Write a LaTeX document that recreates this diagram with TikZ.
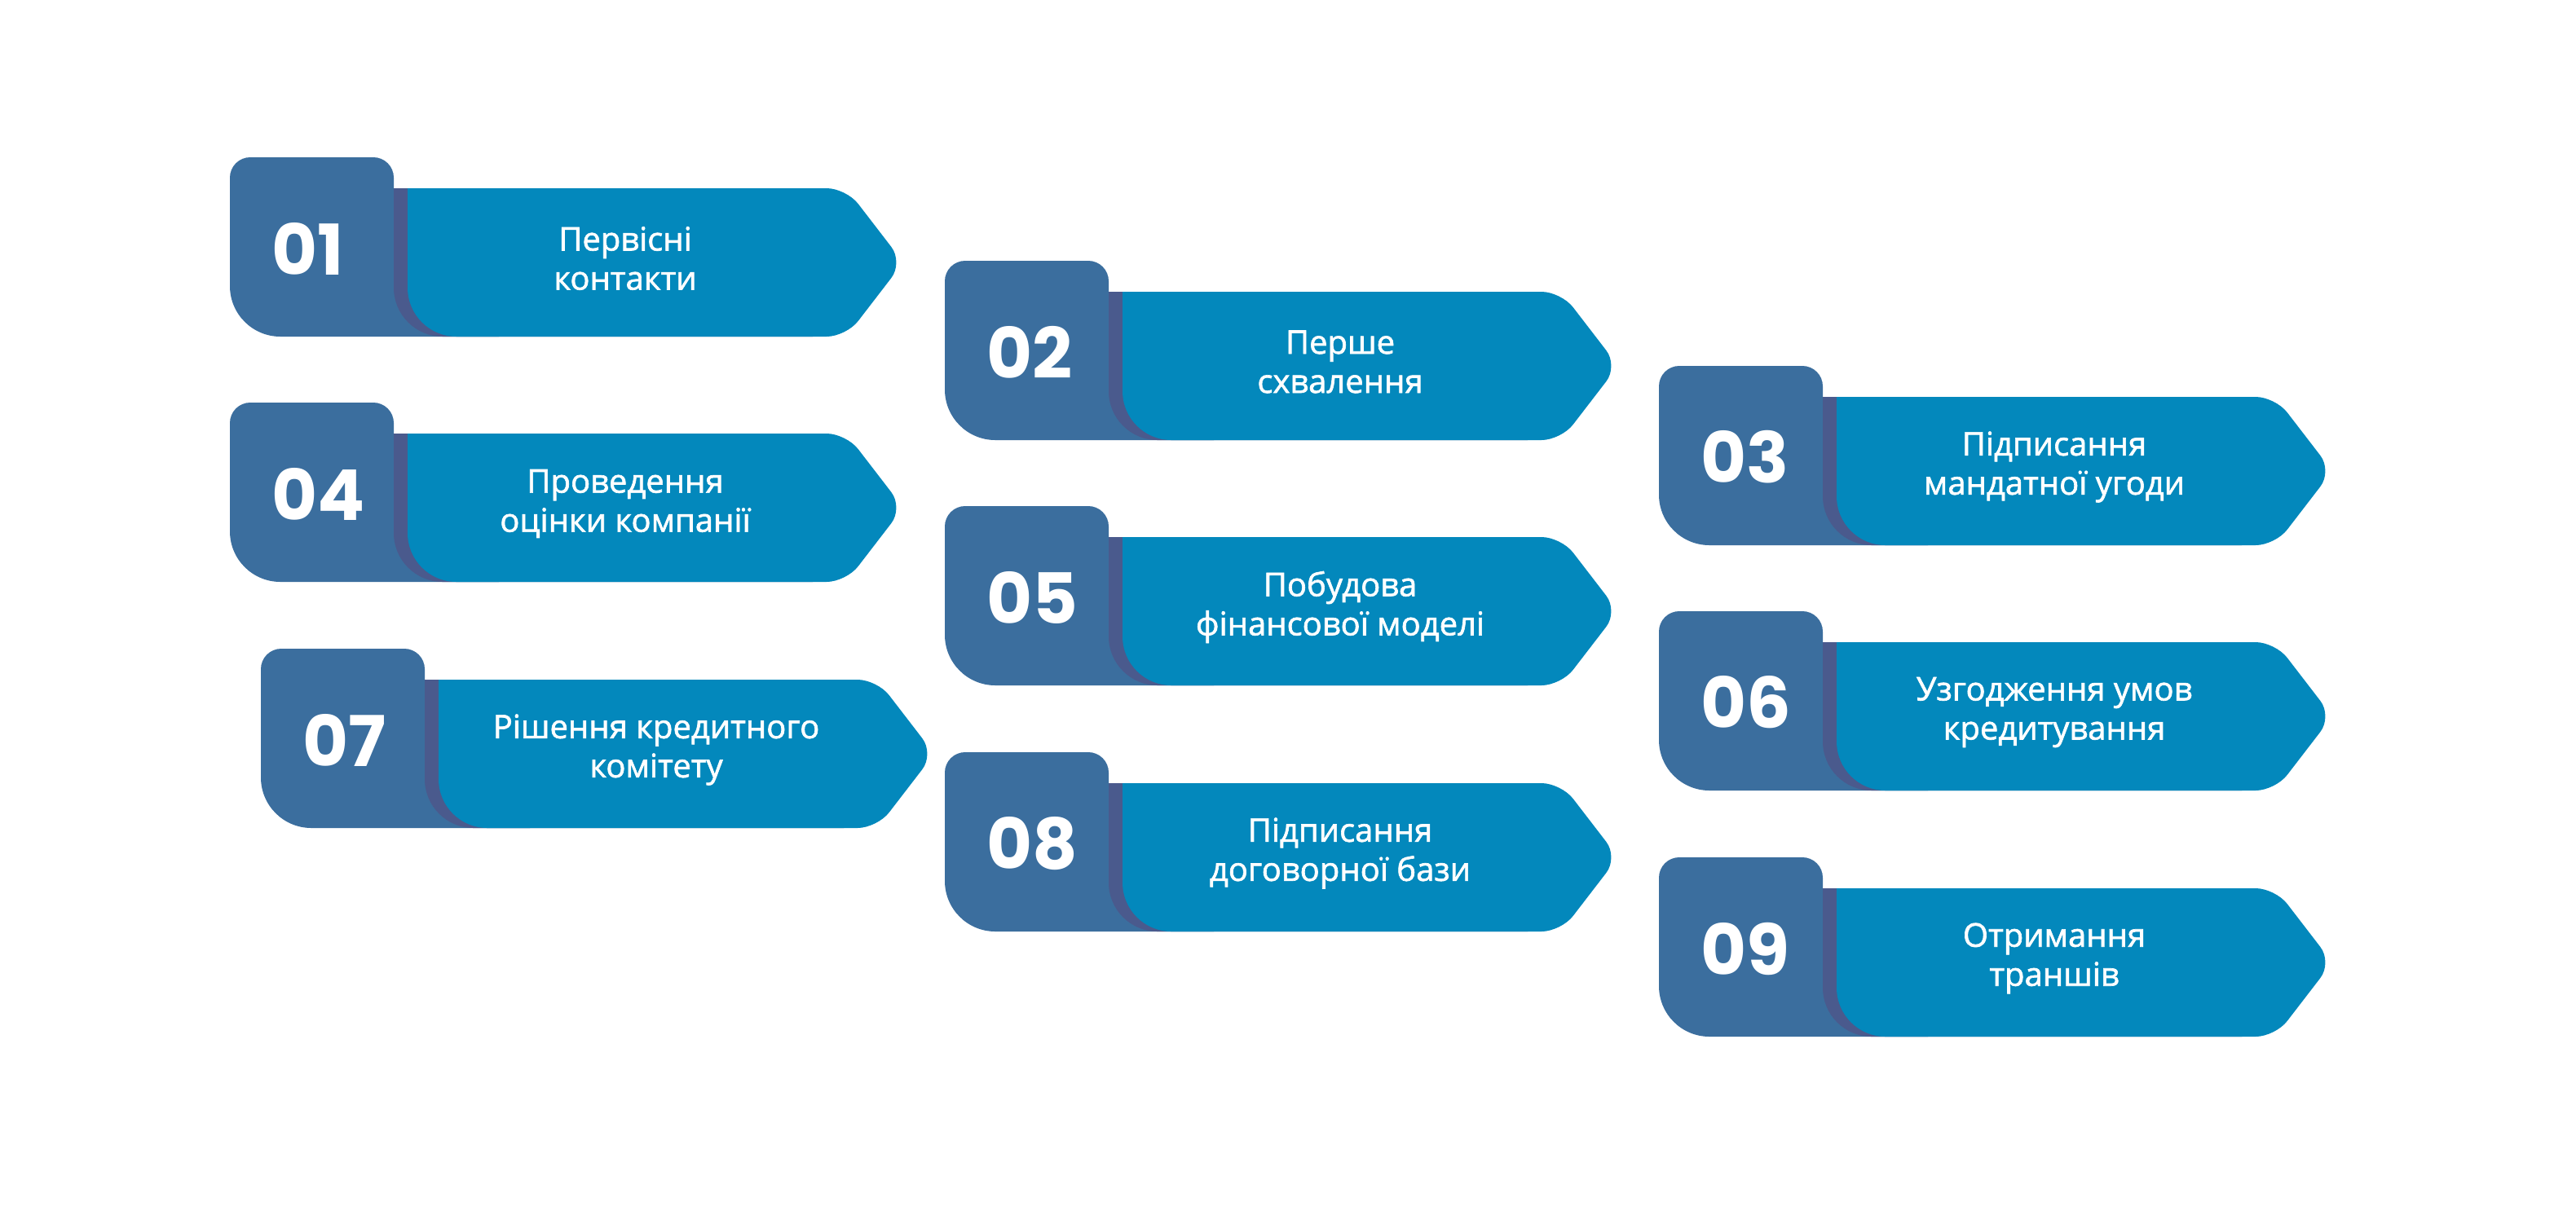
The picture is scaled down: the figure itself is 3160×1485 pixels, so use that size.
\documentclass[tikz,border=0pt]{standalone}
\usepackage{fontspec}
\setmainfont{Open Sans}
\newfontfamily\txtfont{Open Sans}[FakeBold=1.6]
\newfontfamily\numfont{Poppins}
\definecolor{darkc}{HTML}{3B6E9E}
\definecolor{shadc}{HTML}{4A5A8D}
\definecolor{lightc}{HTML}{0388BC}
\tikzset{
  numlabel/.style={font=\numfont\bfseries\fontsize{43}{43}\selectfont, text=white, anchor=west, inner sep=0pt},
  steplabel/.style={font=\txtfont\fontsize{20}{24}\selectfont, text=white, align=center, inner sep=0pt}
}
\newcommand\arrowpart[4]{%
  \begin{scope}
    \clip ({#1+218+#3},{#2-20}) -- ({#1+900},{#2-20}) -- ({#1+900},{#2+220}) -- ({#1+278+#3},{#2+220})
      arc[start angle=90,end angle=180,radius=60] -- cycle;
    \fill[#4, rounded corners=12pt] ({#1+100+#3},{#2+38}) -- ({#1+756+#3},{#2+38}) -- ({#1+826+#3},{#2+129})
      -- ({#1+756+#3},{#2+220}) -- ({#1+100+#3},{#2+220}) -- cycle;
  \end{scope}}
\newcommand\stepitem[5]{%
  \fill[darkc] (#1,{#2+25}) arc[start angle=180,end angle=270,radius=25] -- ({#1+176},#2)
    arc[start angle=270,end angle=360,radius=25] -- ({#1+201},{#2+60}) -- ({#1+330},{#2+60})
    -- ({#1+330},{#2+220}) -- ({#1+62},{#2+220}) arc[start angle=90,end angle=180,radius=62] -- cycle;
  \arrowpart{#1}{#2}{-17}{shadc}
  \arrowpart{#1}{#2}{0}{lightc}
  \node[numlabel] (n#3) at ({#1+51},{#2+112}) {#4};
  \node[steplabel] (t#3) at ({#1+485},{#2+124}) {#5};
}
\begin{document}
\begin{tikzpicture}[x=0.5pt,y=-0.5pt]
  \useasboundingbox (0,0) rectangle (3160,1485);
  \fill[white] (0,0) rectangle (3160,1485);
  \stepitem{282}{193}{1}{01}{Первісні\\контакти}
  \stepitem{282}{494}{4}{04}{Проведення\\оцінки компанії}
  \stepitem{320}{796}{7}{07}{Рішення кредитного\\комітету}
  \stepitem{1159}{320}{2}{02}{Перше\\схвалення}
  \stepitem{1159}{621}{5}{05}{Побудова\\фінансової моделі}
  \stepitem{1159}{923}{8}{08}{Підписання\\договорної бази}
  \stepitem{2035}{449}{3}{03}{Підписання\\мандатної угоди}
  \stepitem{2035}{750}{6}{06}{Узгодження умов\\кредитування}
  \stepitem{2035}{1052}{9}{09}{Отримання\\траншів}
\end{tikzpicture}
\end{document}
